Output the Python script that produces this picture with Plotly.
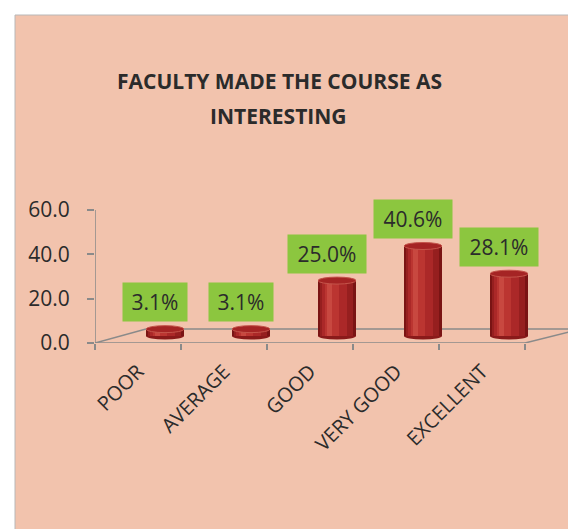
import plotly.graph_objects as go

categories = ["POOR", "AVERAGE", "GOOD", "VERY GOOD", "EXCELLENT"]
values = [3.1, 3.1, 25.0, 40.6, 28.1]
value_labels = ["3.1%", "3.1%", "25.0%", "40.6%", "28.1%"]
y_ticks = [0, 20, 40, 60]
title_lines = ["FACULTY MADE THE COURSE AS", "INTERESTING"]

# ---- geometry (style) ----
W, H = 576, 529
ML, MR, MT, MB = 87, 4, 190, 194
PW = W - ML - MR
PH = H - MT - MB
PX_PER_CAT = 86.0
PX_PER_UNIT = 133.0 / 60.0
XMIN = -0.5
XMAX = XMIN + PW / PX_PER_CAT
YMAX = PH / PX_PER_UNIT

DEPTH_DX_L = 51 / PX_PER_CAT
DEPTH_DX_R = 56 / PX_PER_CAT
DEPTH_DY = 14 / PX_PER_UNIT
BASE = DEPTH_DY / 2
CYL_C = 27 / PX_PER_CAT
CYL_W = 38 / PX_PER_CAT
ELL_RY = 3.5 / PX_PER_UNIT

BG = "#F2C3AD"
AX = "#8a8a8a"
TXT = "#2b2b2b"
FONT = "Open Sans"


def px_x(px):
    return (px - ML) / PW


def px_y(py):
    return (H - MB - py) / PH


fig = go.Figure()

# cylinder body: layered strips for a shaded look
layers = [
    (1.00, 0.00, "#7a1414"),
    (0.88, -0.02, "#961f1f"),
    (0.66, -0.06, "#ab2828"),
    (0.36, -0.14, "#bb3531"),
    (0.12, -0.20, "#c84840"),
]
xs = list(range(len(categories)))
for wf, sh, col in layers:
    w = wf * CYL_W
    fig.add_trace(go.Bar(
        x=xs, y=values, base=BASE,
        width=w, offset=CYL_C + sh * CYL_W - w / 2,
        marker=dict(color=col, line=dict(width=0)),
        hoverinfo="skip", showlegend=False,
    ))

shapes = []
# white page border and pink chart area
shapes.append(dict(type="rect", xref="paper", yref="paper",
                   x0=px_x(7), x1=px_x(571), y0=px_y(529), y1=px_y(7),
                   fillcolor=BG, line=dict(color="#b8b8b8", width=1), layer="below"))
# floor parallelogram
fl = dict(color=AX, width=1.5)
shapes += [
    dict(type="line", xref="x", yref="y", x0=XMIN, y0=0, x1=XMIN + 5, y1=0, line=fl, layer="below"),
    dict(type="line", xref="x", yref="y", x0=XMIN, y0=0, x1=XMIN + DEPTH_DX_L, y1=DEPTH_DY, line=fl, layer="below"),
    dict(type="line", xref="x", yref="y", x0=XMIN + 5, y0=0, x1=XMIN + 5 + DEPTH_DX_R, y1=DEPTH_DY, line=fl, layer="below"),
    dict(type="line", xref="x", yref="y", x0=XMIN + DEPTH_DX_L, y0=DEPTH_DY, x1=XMIN + 5 + DEPTH_DX_R, y1=DEPTH_DY, line=fl, layer="below"),
    # y axis line
    dict(type="line", xref="x", yref="y", x0=XMIN, y0=0, x1=XMIN, y1=y_ticks[-1], line=fl, layer="below"),
]
for i, v in enumerate(values):
    cx0 = i + CYL_C - CYL_W / 2
    cx1 = i + CYL_C + CYL_W / 2
    shapes.append(dict(type="circle", xref="x", yref="y", x0=cx0, x1=cx1,
                       y0=BASE - ELL_RY, y1=BASE + ELL_RY,
                       fillcolor="#8a1a1a", line=dict(width=0), layer="below"))
    shapes.append(dict(type="circle", xref="x", yref="y", x0=cx0, x1=cx1,
                       y0=BASE + v - ELL_RY, y1=BASE + v + ELL_RY,
                       fillcolor="#a52424", line=dict(color="#c4544a", width=1), layer="above"))

annotations = []
for i, (v, t) in enumerate(zip(values, value_labels)):
    annotations.append(dict(
        x=i + 0.2, y=BASE + v, xref="x", yref="y",
        text=t, showarrow=False, yanchor="bottom", yshift=7,
        bgcolor="#8CC63F", borderpad=4, width=14 * len(t), height=30,
        font=dict(family=FONT, size=21, color=TXT),
    ))
annotations.append(dict(x=px_x(271), y=px_y(57), xref="paper", yref="paper",
                        text="<b>%s</b>" % title_lines[0], showarrow=False,
                        font=dict(family=FONT, size=21, color=TXT)))
annotations.append(dict(x=px_x(270), y=px_y(92), xref="paper", yref="paper",
                        text="<b>%s</b>" % title_lines[1], showarrow=False,
                        font=dict(family=FONT, size=21, color=TXT)))

fig.update_layout(
    width=W, height=H,
    margin=dict(l=ML, r=MR, t=MT, b=MB, pad=0),
    paper_bgcolor="white", plot_bgcolor="rgba(0,0,0,0)",
    barmode="overlay", bargap=0,
    shapes=shapes, annotations=annotations,
    xaxis=dict(range=[XMIN, XMAX], tickmode="array", tickvals=xs, ticktext=categories,
               tickangle=-45, ticks="", showline=False, zeroline=False, showgrid=False,
               ticklabelstandoff=12,
               tickfont=dict(family=FONT, size=20, color=TXT),
               minor=dict(tick0=-0.5, dtick=1, ticks="outside", ticklen=6,
                          tickcolor=AX, tickwidth=1.5, showgrid=False)),
    yaxis=dict(range=[0, YMAX], tickmode="array", tickvals=y_ticks,
               ticktext=["%.1f" % t for t in y_ticks],
               ticks="outside", ticklen=7, tickcolor=AX, tickwidth=1.5,
               ticklabelstandoff=13,
               showline=False, zeroline=False, showgrid=False,
               tickfont=dict(family=FONT, size=21, color=TXT)),
)

fig.write_html("out.html")
